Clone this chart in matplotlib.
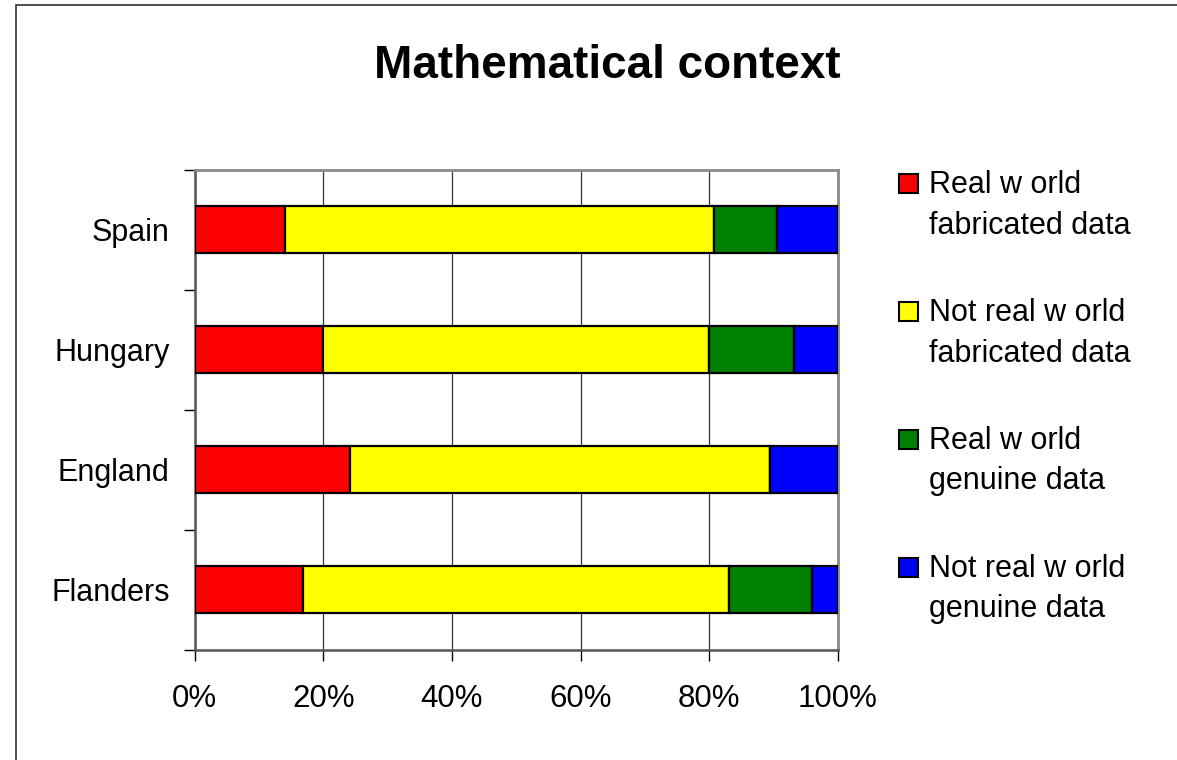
import matplotlib
matplotlib.use("Agg")
import matplotlib.pyplot as plt
from matplotlib.patches import Rectangle
from matplotlib.ticker import FixedLocator, PercentFormatter

plt.rcParams['font.family'] = ['Liberation Sans', 'DejaVu Sans']

# Data (shares in percent, each row sums to 100)
countries = ["Flanders", "England", "Hungary", "Spain"]
series_names = [
    "Real w orld\nfabricated data",
    "Not real w orld\nfabricated data",
    "Real w orld\ngenuine data",
    "Not real w orld\ngenuine data",
]
real_fabricated = [16.9, 24.1, 20.0, 14.1]
notreal_fabricated = [66.2, 65.4, 60.0, 66.7]
real_genuine = [12.8, 0.0, 13.1, 9.7]
notreal_genuine = [4.1, 10.5, 6.9, 9.5]
colors = ["#FF0000", "#FFFF00", "#008000", "#0000FF"]
x_ticks = [0, 20, 40, 60, 80, 100]

W, H, DPI = 1177, 760, 100
fig = plt.figure(figsize=(W / DPI, H / DPI), dpi=DPI)

# frame around the chart
fig.add_artist(Rectangle((16 / W, -0.05), 1.2, 1.05 - 5 / H, transform=fig.transFigure,
                         fill=False, edgecolor="#303030", linewidth=1.2))

left, right, top, bottom = 194.5, 838, 169.5, 649.5
ax = fig.add_axes([left / W, 1 - bottom / H, (right - left) / W, (bottom - top) / H])

ypos = list(range(len(countries)))
values = [real_fabricated, notreal_fabricated, real_genuine, notreal_genuine]
base = [0.0] * len(countries)
for vals, col in zip(values, colors):
    ax.barh(ypos, vals, left=base, height=0.39, color=col, edgecolor="black",
            linewidth=1.6, zorder=3)
    base = [b + v for b, v in zip(base, vals)]

ax.set_xlim(0, 100)
ax.set_ylim(-0.5, len(countries) - 0.5)
ax.set_xticks(x_ticks)
ax.xaxis.set_major_formatter(PercentFormatter(decimals=0))
ax.set_yticks(ypos)
ax.set_yticklabels(countries)
ax.yaxis.set_minor_locator(FixedLocator([i - 0.5 for i in range(len(countries) + 1)]))
ax.tick_params(axis="y", which="major", length=0, pad=18, labelsize=22)
ax.tick_params(axis="y", which="minor", length=8, width=1, color="black", direction="out")
ax.tick_params(axis="x", which="major", length=8, width=1, color="black", direction="out",
               pad=17, labelsize=22.5)

ax.xaxis.grid(True, color="#333333", linewidth=0.9, zorder=0)
ax.set_axisbelow(True)

for side in ["top", "right"]:
    ax.spines[side].set_color("#8a8a8a")
    ax.spines[side].set_linewidth(2.0)
for side in ["left", "bottom"]:
    ax.spines[side].set_color("#555555")
    ax.spines[side].set_linewidth(1.8)

fig.text(607.5 / W, 1 - 77.5 / H, "Mathematical context", ha="center", va="baseline",
         fontsize=33, fontweight="bold")

# legend drawn as square markers with two-line labels
for i, (name, col) in enumerate(zip(series_names, colors)):
    cy = 183.5 + i * 128
    fig.add_artist(Rectangle((898.5 / W, 1 - (cy + 9.5) / H), 19 / W, 19 / H,
                             transform=fig.transFigure, facecolor=col,
                             edgecolor="black", linewidth=1.5))
    fig.text(929 / W, 1 - (cy + 50) / H, name, ha="left", va="baseline", fontsize=22,
             linespacing=1.45)

fig.savefig("out.png", dpi=DPI)
